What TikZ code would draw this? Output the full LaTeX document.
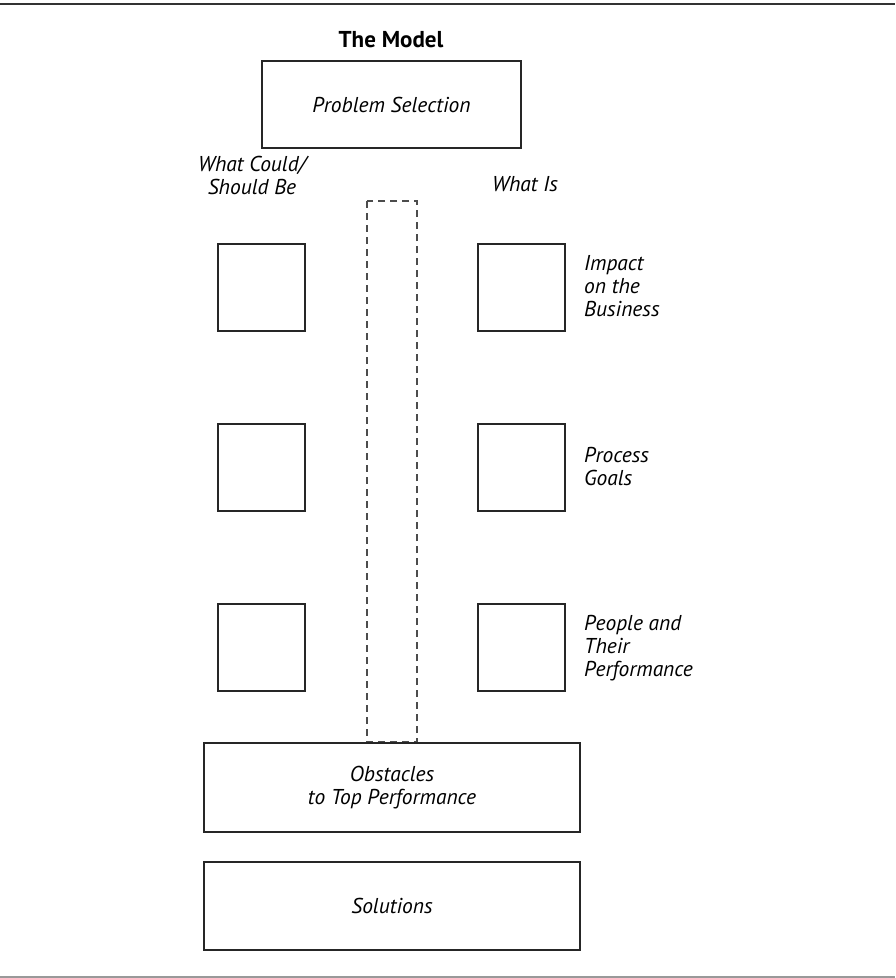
\documentclass[tikz,border=0pt]{standalone}
\usepackage{fontspec}
\setmainfont{PT Sans}
\begin{document}
\begin{tikzpicture}[x=1pt,y=-1pt,
  box/.style={draw=black!85,line width=1.1pt,inner sep=0pt,font=\itshape\fontsize{21.5}{23}\selectfont,align=center},
  sq/.style={draw=black!85,line width=1.1pt,minimum width=87pt,minimum height=87pt,inner sep=0pt},
  lbl/.style={font=\itshape\fontsize{21.5}{23}\selectfont,inner sep=0pt},
  rule/.style={line width=1.6pt}]
\useasboundingbox (0,0) rectangle (895,978);
\draw[rule,black!80] (0,4) -- (895,4);
\draw[rule,black!40] (0,977) -- (895,977);
\node[font=\bfseries\fontsize{23}{23}\selectfont] (title) at (391,40) {The Model};
\node[box,minimum width=259pt,minimum height=87pt] (ps) at (391.5,104.5) {Problem Selection};
\node[lbl,align=center] (wc) at (252,175) {What Could/\\Should Be};
\node[lbl] (wi) at (525,184) {What Is};
\draw[black!70,line width=1.1pt,dash pattern=on 7pt off 5pt] (367,201) rectangle (417,742);
\node[sq] (l1) at (261.5,287.5) {};
\node[sq] (l2) at (261.5,467.5) {};
\node[sq] (l3) at (261.5,647.5) {};
\node[sq] (r1) at (521.5,287.5) {};
\node[sq] (r2) at (521.5,467.5) {};
\node[sq] (r3) at (521.5,647.5) {};
\node[lbl,align=left,anchor=west] (t1) at (584,286) {Impact\\on the\\Business};
\node[lbl,align=left,anchor=west] (t2) at (584,466.5) {Process\\Goals};
\node[lbl,align=left,anchor=west] (t3) at (584,648) {People and\\Their\\Performance};
\node[box,minimum width=376pt,minimum height=89pt,fill=white] (ob) at (392,787.5) {Obstacles\\to Top Performance};
\node[box,minimum width=376pt,minimum height=88pt] (so) at (392,906) {Solutions};
\end{tikzpicture}
\end{document}
